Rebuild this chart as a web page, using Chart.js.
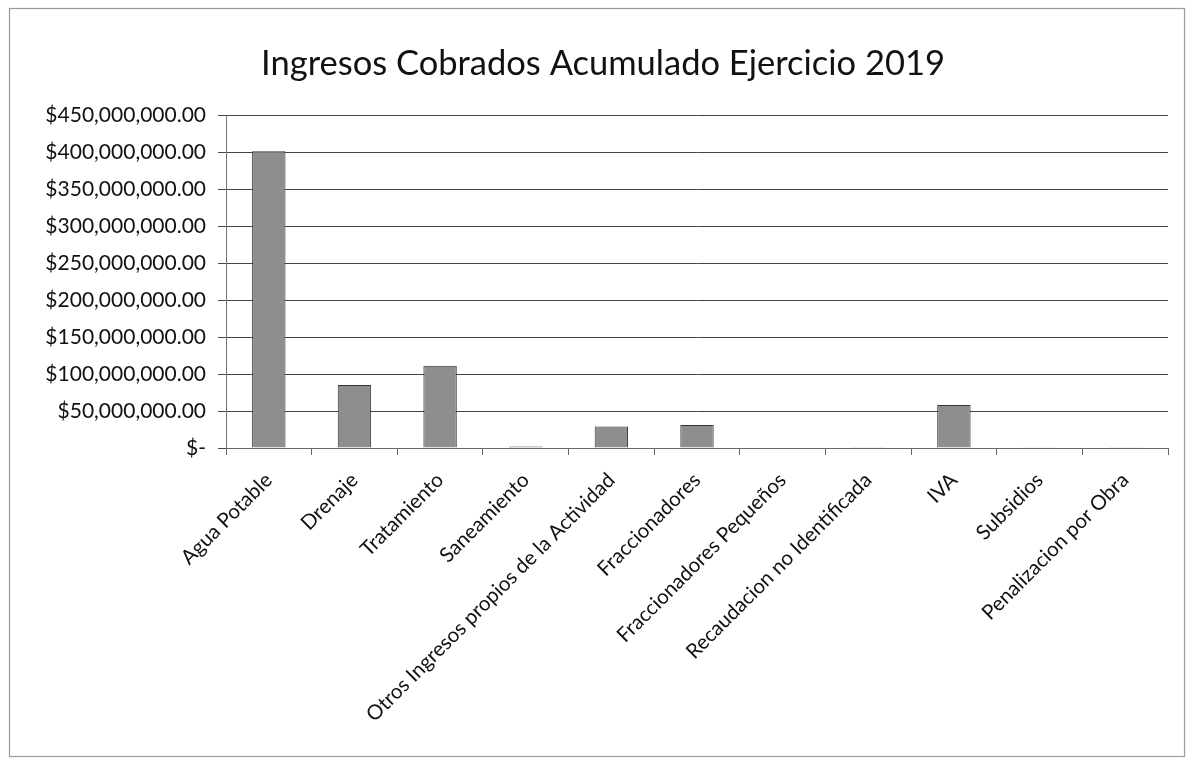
<!DOCTYPE html>
<html>
<head>
<meta charset="utf-8">
<script src="https://cdn.jsdelivr.net/npm/chart.js@4.4.1/dist/chart.umd.min.js"></script>
<style>
html,body{margin:0;padding:0;background:#fff;}
#wrap{width:1191px;height:761px;position:relative;}
</style>
</head>
<body>
<div id="wrap"><canvas id="c" width="1191" height="761"></canvas></div>
<script>
const categories = ["Agua Potable","Drenaje","Tratamiento","Saneamiento","Otros Ingresos propios de la Actividad","Fraccionadores","Fraccionadores Pequeños","Recaudacion no Identificada","IVA","Subsidios","Penalizacion por Obra"];
const ingresos = [401000000, 85000000, 111000000, 2000000, 29000000, 31000000, 800000, 500000, 58000000, 300000, 1000000];
const yTicks = [0, 50000000, 100000000, 150000000, 200000000, 250000000, 300000000, 350000000, 400000000, 450000000];
const titleText = "Ingresos Cobrados Acumulado Ejercicio 2019";

const fmt = v => v === 0 ? "$-" : "$" + v.toLocaleString("en-US", {minimumFractionDigits:2, maximumFractionDigits:2});

const frame = {
  id: 'frame',
  beforeDraw(chart) {
    const ctx = chart.ctx;
    ctx.save();
    ctx.fillStyle = '#fff';
    ctx.fillRect(0,0,chart.width,chart.height);
    ctx.strokeStyle = '#9a9a9a';
    ctx.lineWidth = 1.2;
    ctx.strokeRect(9.5, 8.5, 1175, 748);
    ctx.restore();
  },
  afterDraw(chart) {
    const ctx = chart.ctx;
    ctx.save();
    ctx.fillStyle = '#111';
    ctx.font = 'normal 34.5px Lato';
    ctx.textAlign = 'center';
    ctx.textBaseline = 'middle';
    ctx.fillText(titleText, 603, 64);
    ctx.restore();
  }
};

new Chart(document.getElementById('c'), {
  type: 'bar',
  data: {
    labels: categories,
    datasets: [{
      data: ingresos,
      backgroundColor: '#8e8e8e',
      borderColor: '#333',
      borderWidth: 1,
      barPercentage: 0.39,
      categoryPercentage: 1.0
    }]
  },
  plugins: [frame],
  options: {
    responsive: false,
    animation: false,
    layout: { padding: { left: 10, right: 23, top: 115, bottom: 13 } },
    plugins: {
      legend: { display: false },
      tooltip: { enabled: false },
      title: { display: false }
    },
    scales: {
      x: {
        afterFit: s => { s.height = 300; },
        grid: { offset: true, drawOnChartArea: false, tickLength: 7, color: '#666' },
        border: { color: '#666', width: 1 },
        ticks: {
          autoSkip: false,
          maxRotation: 45, minRotation: 45,
          color: '#111',
          font: { family: 'Lato', size: 20.5 },
          padding: 13
        }
      },
      y: {
        min: 0, max: 450000000,
        afterFit: s => { s.width = 216; },
        afterBuildTicks: s => { s.ticks = yTicks.map(v => ({ value: v })); },
        grid: { color: '#444', lineWidth: 1, tickLength: 8 },
        border: { color: '#777', width: 1 },
        ticks: {
          color: '#111',
          font: { family: 'Lato', size: 21 },
          padding: 12,
          callback: v => fmt(v)
        }
      }
    }
  }
});
</script>
</body>
</html>
